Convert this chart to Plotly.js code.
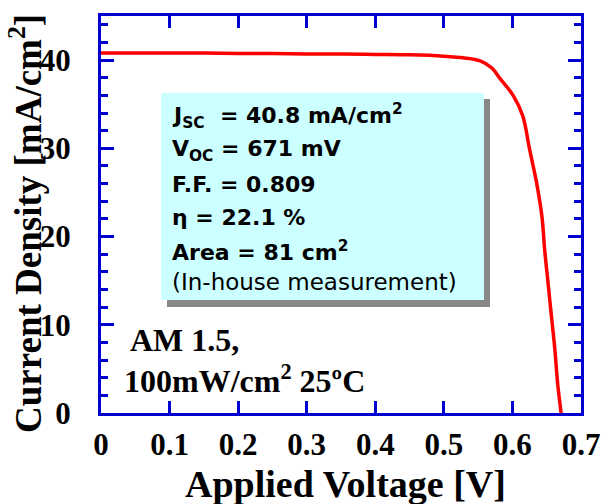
<!DOCTYPE html>
<html><head><meta charset="utf-8">
<script src="https://cdn.plot.ly/plotly-3.0.1.min.js"></script>
<style>body{margin:0;padding:0;background:#fff}#c{width:602px;height:504px}</style>
</head><body><div id="c"></div>
<script>
// Data
const voltage = [0, 0.05, 0.1, 0.15, 0.2, 0.25, 0.3, 0.35, 0.4, 0.45, 0.5, 0.53, 0.553, 0.57, 0.582, 0.601, 0.615, 0.625, 0.635, 0.643, 0.647, 0.652, 0.657, 0.662, 0.666, 0.671];
const current = [40.8, 40.8, 40.8, 40.8, 40.75, 40.75, 40.7, 40.7, 40.65, 40.6, 40.45, 40.25, 39.9, 39.1, 37.9, 36.0, 33.7, 29.9, 26.2, 22.3, 18.5, 14.7, 10.9, 7.1, 3.3, 0];
const xTicks = [0, 0.1, 0.2, 0.3, 0.4, 0.5, 0.6, 0.7];
const yTicks = [0, 10, 20, 30, 40];
const xTitle = 'Applied Voltage [V]';
const yTitle = 'Current Density [mA/cm<sup>2</sup>]';
const boxLines = [
  "<b>J<sub>SC</sub>  = 40.8 mA/cm<sup>2</sup></b>",
  "<b>V<sub>OC</sub> = 671 mV</b>",
  "<b>F.F. = 0.809</b>",
  "<b>η = 22.1 %</b>",
  "<b>Area = 81 cm<sup>2</sup></b>",
  "(In-house measurement)"
];
const condLines = ["AM 1.5,", "100mW/cm<sup>2</sup> 25ºC"];

const blue = '#0000d0';
const serif = 'Liberation Serif, Times New Roman, serif';
const sans = 'DejaVu Sans, Arial, sans-serif';

const W = 602, H = 504, L = 101, R = 21, T = 16, B = 91;
const pw = W - L - R, ph = H - T - B;
function px(x){ return (x - L) / pw; }
function py(y){ return (H - B - y) / ph; }

const annotations = [];
const lineY = [116, 150, 184, 217, 251, 282];
const lineSize = [22, 22, 22, 22, 22, 23];
boxLines.forEach((t, i) => annotations.push({
  text: t, xref: 'paper', yref: 'paper', x: px(170), y: py(lineY[i]),
  xanchor: 'left', yanchor: 'middle', showarrow: false,
  font: {family: sans, size: lineSize[i], color: '#000'}
}));
const condY = [340, 379];
const condX = [128, 122];
condLines.forEach((t, i) => annotations.push({
  text: '<b>' + t + '</b>', xref: 'paper', yref: 'paper', x: px(condX[i]), y: py(condY[i]),
  xanchor: 'left', yanchor: 'middle', showarrow: false,
  font: {family: serif, size: 32, color: '#000'}
}));
annotations.push({
  text: '<b>' + xTitle + '</b>', xref: 'paper', yref: 'paper', x: px(345), y: py(484),
  xanchor: 'center', yanchor: 'middle', showarrow: false,
  font: {family: serif, size: 38, color: '#000'}
});
annotations.push({
  text: '<b>' + yTitle + '</b>', xref: 'paper', yref: 'paper', x: px(25), y: py(224),
  xanchor: 'center', yanchor: 'middle', showarrow: false, textangle: -90,
  font: {family: serif, size: 37, color: '#000'}
});

const shapes = [
  {type: 'rect', xref: 'paper', yref: 'paper', x0: px(167), x1: px(490), y0: py(307), y1: py(99),
   fillcolor: '#888888', line: {width: 0}, layer: 'below'},
  {type: 'rect', xref: 'paper', yref: 'paper', x0: px(161), x1: px(484), y0: py(300), y1: py(93),
   fillcolor: '#ccffff', line: {width: 0}, layer: 'below'}
];

Plotly.newPlot('c', [{
  x: voltage, y: current, type: 'scatter', mode: 'lines',
  line: {color: '#ff0000', width: 3.5, shape: 'spline'}, hoverinfo: 'skip'
}], {
  width: W, height: H,
  margin: {l: L, r: R, t: T, b: B, pad: 0},
  paper_bgcolor: '#fff', plot_bgcolor: '#fff',
  showlegend: false,
  xaxis: {
    range: [0, 0.7], tickvals: xTicks, ticktext: xTicks.map(v => String(v)),
    showgrid: false, zeroline: false, showline: true, linecolor: blue, linewidth: 3,
    mirror: 'ticks', ticks: 'inside', ticklen: 12, tickwidth: 3, tickcolor: blue,
    ticklabelstandoff: 2,
    tickfont: {family: serif, size: 31, color: '#000', weight: 'bold'}
  },
  yaxis: {
    range: [0, 45], tickvals: yTicks, ticktext: yTicks.map(v => String(v)),
    showgrid: false, zeroline: false, showline: true, linecolor: blue, linewidth: 3,
    mirror: 'ticks', ticks: 'inside', ticklen: 13, tickwidth: 3, tickcolor: blue,
    ticklabelstandoff: 21,
    minor: {dtick: 2, ticks: 'inside', ticklen: 7, tickwidth: 3, tickcolor: blue, showgrid: false},
    tickfont: {family: serif, size: 31, color: '#000', weight: 'bold'}
  },
  shapes: shapes,
  annotations: annotations
}, {staticPlot: true});
</script>
</body></html>
